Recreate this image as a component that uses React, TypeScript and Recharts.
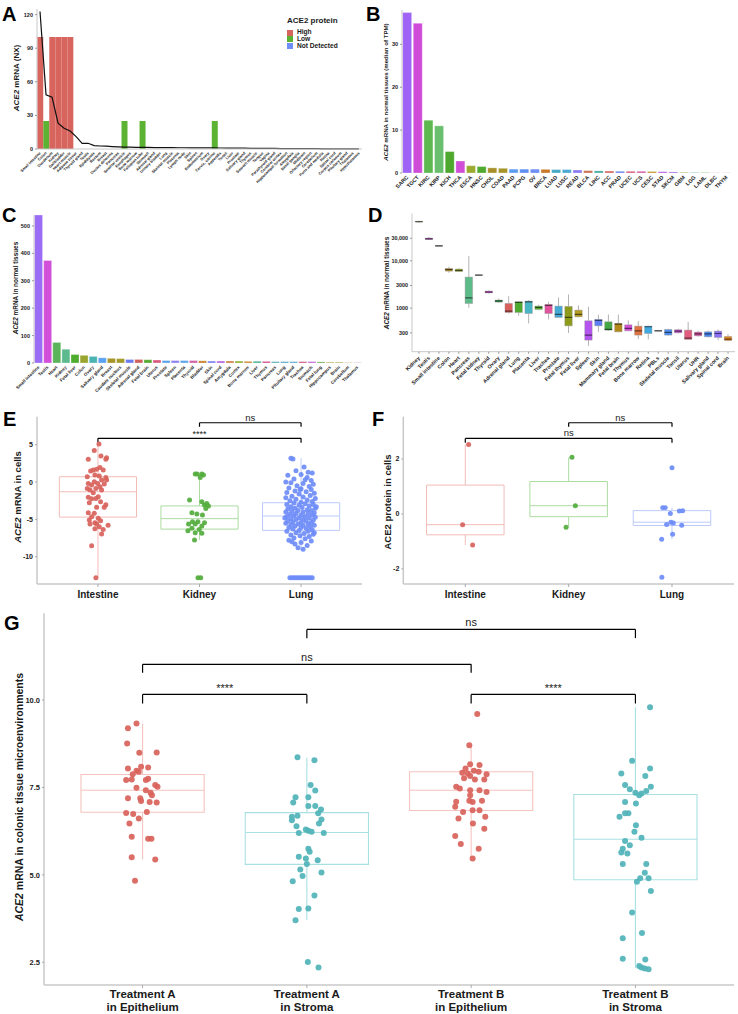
import React from "react";
import {
  Bar,
  BarChart,
  Cell,
  ComposedChart,
  Line,
  ReferenceArea,
  ReferenceLine,
  Scatter,
  XAxis,
  YAxis,
} from "recharts";

const SANS = '"Liberation Sans", Arial, Helvetica, sans-serif';
const NARROW = '"Liberation Sans Narrow", "Liberation Sans", Arial, sans-serif';
const INK = "#1a1a1a";
const AXIS = "#c8c8c8";

// ---------- A: HPA consensus NX + protein level ----------
const aTissues = [
  "Small intestine", "Colon", "Duodenum", "Kidney", "Gallbladder", "Heart muscle",
  "Adipose tissue", "Thyroid gland", "Testis", "Epididymis", "Rectum", "Breast",
  "Ductus deferens", "Pancreas", "Seminal vesicle", "Esophagus", "Bone marrow",
  "Fallopian tube", "Stomach", "Adrenal gland", "Urinary bladder", "Lung",
  "Skeletal muscle", "Placenta", "Lymph node", "Skin", "Spleen", "Endometrium",
  "Ovary", "Cervix, uterine", "Appendix", "Tonsil", "Liver", "Prostate",
  "Salivary gland", "Thymus", "Smooth muscle", "Tongue", "Vagina", "Parathyroid gland",
  "Cerebral cortex", "Hippocampal formation", "Amygdala", "Basal ganglia", "Midbrain",
  "Olfactory region", "Cerebellum", "Pons and medulla", "Retina", "Spinal cord",
  "Corpus callosum", "Pituitary gland", "Thalamus", "Hypothalamus",
];
const aProtein = [
  "High", "Low", "High", "High", "High", "High", "Not Detected", "Not Detected",
  "Not Detected", "Not Detected", "Not Detected", "Not Detected", "Not Detected",
  "Not Detected", "Low", "Not Detected", "Not Detected", "Low", "Not Detected",
  "Not Detected", "Not Detected", "Not Detected", "Not Detected", "Not Detected",
  "Not Detected", "Not Detected", "Not Detected", "Not Detected", "Not Detected", "Low",
  "Not Detected", "Not Detected", "Not Detected", "Not Detected", "Not Detected",
  "Not Detected", "Not Detected", "Not Detected", "Not Detected", "Not Detected",
  "Not Detected", "Not Detected", "Not Detected", "Not Detected", "Not Detected",
  "Not Detected", "Not Detected", "Not Detected", "Not Detected", "Not Detected",
  "Not Detected", "Not Detected", "Not Detected", "Not Detected",
];
const aNX = [
  122.7, 48.4, 46.3, 23, 18.5, 16.1, 11, 5.1, 5.1, 3.0, 2.7, 2.5, 2.2, 1.9, 1.7, 1.6,
  1.5, 1.4, 1.4, 1.3, 1.3, 1.2, 1.2, 1.1, 1.1, 1.0, 1.0, 1.0, 1.0, 1.0, 0.9, 0.8, 0.8,
  0.7, 0.7, 0.6, 0.6, 0.5, 0.5, 0.5, 0.4, 0.4, 0.4, 0.3, 0.3, 0.3, 0.3, 0.2, 0.2, 0.2,
  0.2, 0.1, 0.1, 0.1,
];
const proteinLevel: Record<string, number> = { High: 100, Low: 25, "Not Detected": 0 };
const proteinColor: Record<string, string> = {
  High: "#d8645e",
  Low: "#5cb233",
  "Not Detected": "#6f8ef7",
};

// ---------- B: TCGA median TPM ----------
const bTypes = [
  "SARC", "TGCT", "KIRC", "KIRP", "KICH", "THCA", "ESCA", "HNSC", "CHOL", "COAD", "PAAD",
  "PCPG", "OV", "BRCA", "LUAD", "LUSC", "READ", "BLCA", "LIHC", "ACC", "PRAD", "UCEC",
  "UCS", "CESC", "STAD", "SKCM", "GBM", "LGG", "LAML", "DLBC", "THYM",
];
const bTPM = [
  37.4, 34.9, 12.3, 11.0, 5.0, 2.8, 1.7, 1.5, 1.2, 1.1, 0.9, 0.9, 0.9, 0.85, 0.8, 0.8,
  0.7, 0.55, 0.5, 0.45, 0.4, 0.4, 0.4, 0.35, 0.3, 0.25, 0.15, 0.12, 0.1, 0.05, 0.05,
];
const bColors = [
  "#9f63f6", "#cf4cd8", "#5cb84f", "#6abf6e", "#4ea82e", "#d04fd6", "#9aab2f", "#4faa2d",
  "#a98f2a", "#a6952a", "#5b9cf2", "#5d8ef2", "#6c8ef6", "#c9792a", "#48aac6", "#4aa9d2",
  "#8a7cf4", "#cd6f4f", "#46aaa0", "#d3625b", "#6a82f2", "#d45a7d", "#cf5aa8", "#c19322",
  "#b155e6", "#a466ea", "#9aa232", "#4eb09a", "#5aa84a", "#d77aa0", "#d580c8",
];

// ---------- C: normal tissues ----------
const cTissues = [
  "Small intestine", "Testis", "Heart", "Kidney", "Fetal liver", "Colon", "Ovary",
  "Salivary gland", "Breast", "Caudate nucleus", "Skeletal muscle", "Adrenal gland",
  "Fetal brain", "Uterus", "Prostate", "Spleen", "Placenta", "Thyroid", "Bladder", "Skin",
  "Spinal cord", "Amygdala", "Cortex", "Bone marrow", "Liver", "Thymus", "Pancreas", "Lung",
  "Pituitary gland", "Trachea", "Stomach", "Fetal lung", "Hippocampus", "Brain",
  "Cerebellum", "Thalamus",
];
const cValues = [
  540, 374, 75, 50, 31, 28, 24, 19, 17, 16, 13, 13, 12, 11, 9, 9, 9, 9, 8, 7, 7, 7, 7, 6,
  6, 6, 5, 5, 5, 5, 5, 4, 3, 3, 2, 2,
];
const cColors = [
  "#9b6cf5", "#d24fd9", "#5bb35a", "#5cba8e", "#4eac2f", "#9aa52e", "#4cb3b3", "#5ba2f2",
  "#a8952a", "#a39a2b", "#6a7cf0", "#d0605c", "#57a933", "#d85c7e", "#5aa4ea", "#8f83f3",
  "#5fa7ea", "#cf62a8", "#c5812b", "#7a7ef2", "#b25ce8", "#c87b36", "#8fae2d", "#c9872a",
  "#46ad8e", "#d1528f", "#4cb0b4", "#4da6c8", "#57a8cf", "#d24f7f", "#c35cd4", "#5fae3e",
  "#a4a32f", "#a9a03a", "#c8a870", "#d3a6cf",
];

// ---------- D: normal tissues, log boxplots ----------
const dTissues = [
  "Kidney", "Testis", "Small intestine", "Colon", "Heart", "Pancreas", "Fetal kidney",
  "Thyroid", "Ovary", "Adrenal gland", "Lung", "Placenta", "Liver", "Trachea", "Prostate",
  "Fetal thymus", "Fetal liver", "Spleen", "Skin", "Mammary gland", "Fetal brain", "Thymus",
  "Bone marrow", "Retina", "PBLs", "Skeletal muscle", "Tonsil", "Uterus", "UHR",
  "Salivary gland", "Spinal cord", "Brain",
];
const dLo = [64000, 27500, 20000, 5580, 5800, 1016, 4850, 2050, 1300, 770, 690, 475, 900, 576, 620, 300, 640, 160, 316, 330, 310, 325, 221, 218, 325, 260, 290, 215, 250, 240, 211, 200];
const dQ1 = [66000, 28300, 20400, 6050, 5950, 1255, 4930, 2110, 1340, 810, 810, 771, 937, 771, 635, 423, 656, 211, 423, 343, 316, 332, 269, 291, 328, 269, 301, 218, 260, 248, 240, 207];
const dMed = [67000, 29000, 20700, 6560, 6240, 1653, 4980, 2180, 1430, 864, 1317, 1360, 1033, 1138, 735, 635, 735, 269, 549, 354, 459, 372, 332, 404, 332, 306, 327, 232, 287, 287, 291, 222];
const dQ3 = [68500, 30200, 21000, 6890, 6700, 4520, 5050, 2290, 1475, 1255, 1360, 1405, 1102, 1195, 1102, 1085, 907, 540, 576, 514, 475, 444, 416, 416, 338, 354, 349, 343, 311, 316, 327, 252];
const dHi = [70000, 32000, 21400, 7500, 6900, 12550, 5100, 2350, 1600, 1790, 1400, 1475, 1180, 1360, 1680, 1945, 1140, 1066, 723, 735, 735, 549, 531, 420, 342, 366, 366, 514, 330, 340, 354, 282];
const dColors = [
  "#7a8a4a", "#c23fd0", "#6a7a5a", "#a8821f", "#8a9a1f", "#5dbb8a", "#6a8a6a", "#d243d8",
  "#38a44f", "#d9605c", "#4caa2f", "#48b6c6", "#55ad2b", "#e2529e", "#45a9d6", "#8e9b1a",
  "#b39b22", "#b455f0", "#5b7ff2", "#43a843", "#b38a19", "#d24fd9", "#e0733f", "#3fa9e0",
  "#7a7a7a", "#4f8ff0", "#c64fd0", "#e25c7f", "#d04f9e", "#4a88f0", "#8c6ff2", "#e3851f",
];

// ---------- E / F: single-cell ----------
const cellGroups = ["Intestine", "Kidney", "Lung"];
const cellColors = ["#d8625b", "#53ad3d", "#6e8cf7"];
const cellBoxColors = ["#f2bcb8", "#acdca2", "#bccafb"];
// [jitter, value]
const eIntestine = [
  [0.01, 5.09], [-0.036, 4.24], [-0.095, 3.04], [0.03, 3.48], [0.085, 3.26], [0.078, 3.04],
  [-0.046, 1.61], [-0.072, 1.47], [-0.013, 1.7], [0.02, 1.96], [0.052, 1.61], [-0.03, 0.94],
  [0.013, 0.8], [-0.105, 0.71], [0.078, 0.62], [0.036, 0.27], [-0.036, 0.04], [-0.095, -0.18],
  [-0.003, -0.18], [0.062, -0.27], [0.085, 0.27], [-0.062, -0.4], [0.02, -0.62], [-0.02, -0.85],
  [-0.105, -0.85], [-0.078, -1.07], [0.036, -1.07], [-0.046, -1.43], [0.003, -1.96],
  [-0.095, -2.05], [-0.062, -2.23], [-0.02, -2.19], [0.026, -2.63], [-0.085, -2.77],
  [0.078, -3.03], [0.062, -3.39], [-0.013, -3.39], [-0.095, -4.1], [-0.036, -4.19],
  [-0.062, -4.64], [0.003, -4.86], [-0.085, -5.09], [0.026, -5.18], [-0.03, -5.45],
  [-0.078, -5.62], [-0.013, -5.62], [0.1, -5.8], [0.013, -5.98], [-0.03, -6.25],
  [0.052, -6.34], [0.036, -6.96], [-0.062, -8.52], [-0.02, -12.8],
];
const eKidney = [
  [-0.042, 1.07], [-0.023, 1.07], [0.023, 1.07], [0.039, 0.94], [0.007, 0.62], [-0.098, -2.41],
  [0.023, -2.63], [0.072, -2.86], [0.049, -3.08], [0.088, -3.21], [0.062, -3.53],
  [-0.075, -4.1], [-0.026, -4.28], [0.029, -4.42], [-0.069, -5.31], [-0.016, -5.31],
  [0.049, -5.45], [-0.108, -5.62], [-0.042, -5.62], [0.023, -5.89], [-0.075, -6.2],
  [-0.114, -6.51], [-0.003, -6.34], [-0.042, -6.78], [0.023, -6.87], [-0.049, -7.76],
  [-0.015, -12.8], [0.012, -12.8],
];
const eLung = [
  [-0.1, 3.2], [-0.08, 3.1], [0.03, 2.0], [-0.05, 1.5], [0.07, 1.3], [0.11, 1.2], [0.0, 1.0],
  [-0.13, 0.9], [0.06, 0.6], [-0.07, 0.4], [0.1, 0.2], [-0.15, 0.0], [-0.1, -0.1], [0.02, -0.2],
  [0.12, -0.3], [-0.04, -0.5], [0.08, -0.6], [-0.12, -0.8], [0.0, -0.9], [0.1, -1.0],
  [-0.06, -1.2], [0.05, -1.3], [-0.14, -1.4], [0.13, -1.5], [-0.02, -1.6], [0.09, -1.8],
  [-0.09, -1.9], [0.02, -2.0], [-0.15, -2.1], [0.14, -2.2], [-0.05, -2.3], [0.06, -2.4],
  [-0.11, -2.5], [0.11, -2.6], [0.0, -2.7], [-0.07, -2.8], [0.04, -2.9], [-0.14, -3.0],
  [0.12, -3.0], [-0.02, -3.1], [0.08, -3.2], [-0.1, -3.3], [0.01, -3.4], [0.14, -3.5],
  [-0.06, -3.5], [-0.13, -3.6], [0.06, -3.7], [-0.03, -3.8], [0.1, -3.8], [-0.09, -3.9],
  [0.02, -4.0], [-0.15, -4.0], [0.13, -4.1], [-0.05, -4.2], [0.07, -4.2], [-0.11, -4.3],
  [0.0, -4.4], [0.11, -4.4], [-0.07, -4.5], [0.04, -4.6], [-0.14, -4.6], [0.14, -4.7],
  [-0.02, -4.8], [0.08, -4.8], [-0.1, -4.9], [0.02, -5.0], [-0.05, -5.0], [0.12, -5.1],
  [-0.13, -5.2], [0.05, -5.2], [-0.08, -5.3], [0.0, -5.4], [0.1, -5.4], [-0.15, -5.5],
  [-0.03, -5.6], [0.07, -5.6], [-0.1, -5.7], [0.13, -5.8], [0.02, -5.8], [-0.06, -5.9],
  [0.09, -6.0], [-0.12, -6.1], [0.0, -6.1], [0.05, -6.2], [-0.08, -6.3], [0.11, -6.4],
  [-0.02, -6.5], [-0.14, -6.6], [0.07, -6.6], [-0.05, -6.8], [0.03, -6.9], [0.12, -7.0],
  [-0.1, -7.1], [-0.01, -7.2], [0.08, -7.3], [-0.07, -7.5], [0.04, -7.6], [-0.12, -7.8],
  [0.1, -7.9], [0.0, -8.1], [-0.06, -8.3], [0.06, -8.5], [-0.03, -8.8], [0.02, -9.0],
  [-0.09, -8.0], [0.13, -6.8], [-0.16, -4.8], [0.15, -3.3], [-0.01, -1.0], [0.04, 0.3],
  [-0.11, -12.8], [-0.09, -12.8], [-0.07, -12.8], [-0.05, -12.8], [-0.03, -12.8],
  [-0.01, -12.8], [0.01, -12.8], [0.03, -12.8], [0.05, -12.8], [0.07, -12.8], [0.09, -12.8],
  [0.11, -12.8],
];
const eBoxes = [
  { lo: -12.8, q1: -4.69, med: -1.3, q3: 0.71, hi: 5.09 },
  { lo: -7.76, q1: -6.3, med: -4.9, q3: -3.2, hi: 1.07 },
  { lo: -9.0, q1: -6.47, med: -4.55, q3: -2.77, hi: 3.2 },
];
const eBrackets = [
  { from: 2, to: 3, y: 7.94, tip: 7.4, label: "ns" },
  { from: 1, to: 3, y: 5.85, tip: 5.26, label: "****" },
];

const fIntestine = [[0.032, 2.53], [-0.026, -0.39], [0.071, -1.13]];
const fKidney = [[0.032, 2.06], [0.065, 0.3], [-0.025, -0.48]];
const fLung = [
  [-0.09, 0.23], [-0.065, 0.23], [-0.016, 0.02], [0.071, 0.11], [0.103, 0.12], [-0.052, -0.38],
  [-0.01, -0.3], [0.013, -0.33], [0.094, -0.41], [0.006, -0.74], [-0.1, -0.92], [0.0, 1.68],
  [-0.098, -2.3],
];
const fBoxes = [
  { lo: -1.13, q1: -0.76, med: -0.39, q3: 1.05, hi: 2.53 },
  { lo: -0.48, q1: -0.1, med: 0.3, q3: 1.18, hi: 2.06 },
  { lo: -0.92, q1: -0.42, med: -0.3, q3: 0.12, hi: 0.23 },
];
const fBrackets = [
  { from: 2, to: 3, y: 3.32, tip: 3.17, label: "ns" },
  { from: 1, to: 3, y: 2.75, tip: 2.59, label: "ns" },
];

// ---------- G: colonic microenvironments ----------
const gGroups = [
  ["Treatment A", "in Epithelium"],
  ["Treatment A", "in Stroma"],
  ["Treatment B", "in Epithelium"],
  ["Treatment B", "in Stroma"],
];
const gColors = ["#d9625b", "#4fb3b8", "#d9625b", "#4fb3b8"];
const gBoxColors = ["#f6c3bf", "#a9e0e2", "#f6c3bf", "#a9e0e2"];
const gAEpi = [
  [-0.037, 9.33], [-0.089, 9.19], [-0.094, 8.76], [-0.02, 8.49], [0.086, 8.5], [-0.089, 8.04],
  [-0.009, 8.09], [0.034, 8.07], [-0.037, 7.98], [-0.023, 7.95], [-0.06, 7.88], [-0.1, 7.71],
  [-0.066, 7.73], [0.02, 7.71], [0.034, 7.75], [-0.037, 7.49], [0.077, 7.57], [0.091, 7.52],
  [0.02, 7.42], [0.049, 7.35], [0.057, 7.28], [-0.089, 7.19], [-0.014, 7.19], [-0.009, 7.11],
  [0.043, 7.08], [0.086, 7.07], [-0.1, 6.77], [-0.057, 6.74], [-0.023, 6.61], [0.026, 6.8],
  [-0.08, 6.47], [-0.066, 6.09], [0.034, 6.03], [0.054, 6.03], [-0.066, 5.5], [0.077, 5.44],
  [-0.046, 4.83],
];
const gAStr = [
  [-0.057, 8.36], [0.046, 8.28], [0.023, 7.57], [0.051, 7.41], [-0.069, 7.22], [0.009, 7.22],
  [-0.083, 7.07], [0.009, 6.97], [0.051, 6.97], [0.086, 6.87], [0.069, 6.76], [-0.091, 6.66],
  [-0.057, 6.69], [-0.091, 6.56], [0.089, 6.58], [0.074, 6.47], [-0.063, 6.39], [-0.006, 6.3],
  [-0.049, 6.2], [0.103, 6.2], [0.009, 6.26], [0.029, 6.23], [0.009, 5.75], [0.017, 5.66],
  [-0.049, 5.52], [-0.006, 5.47], [0.066, 5.42], [0.0, 5.31], [-0.04, 5.15], [0.089, 5.07],
  [-0.026, 4.97], [-0.086, 4.82], [0.046, 4.41], [-0.049, 4.02], [0.009, 4.04], [-0.069, 3.7],
  [0.006, 2.51], [0.071, 2.35],
];
const gBEpi = [
  [0.037, 9.6], [-0.011, 8.71], [-0.006, 8.16], [0.051, 8.14], [-0.034, 8.04], [0.017, 7.98],
  [-0.054, 7.92], [-0.02, 7.9], [0.046, 7.95], [0.094, 7.88], [-0.006, 7.83], [-0.043, 7.76],
  [0.023, 7.73], [0.08, 7.73], [-0.091, 7.52], [-0.069, 7.47], [-0.006, 7.42], [0.051, 7.42],
  [0.094, 7.37], [-0.006, 7.28], [-0.091, 7.09], [-0.011, 7.12], [0.009, 7.08], [0.066, 7.12],
  [-0.097, 6.95], [0.009, 6.85], [-0.049, 6.8], [0.051, 6.85], [-0.077, 6.61], [0.086, 6.66],
  [0.011, 6.47], [0.08, 6.32], [-0.097, 6.11], [-0.063, 5.88], [0.046, 5.75], [0.009, 5.47],
];
const gBStr = [
  [0.089, 9.79], [-0.02, 8.26], [0.089, 8.04], [-0.086, 7.9], [0.06, 7.83], [-0.063, 7.57],
  [-0.034, 7.45], [0.094, 7.52], [0.0, 7.35], [0.037, 7.33], [0.066, 7.4], [0.023, 7.28],
  [-0.063, 7.08], [0.003, 7.04], [-0.063, 6.76], [-0.043, 6.76], [-0.097, 6.66], [0.003, 6.42],
  [-0.006, 6.23], [0.037, 6.06], [-0.063, 5.97], [-0.034, 5.85], [-0.077, 5.75], [-0.049, 5.61],
  [-0.086, 5.64], [-0.077, 5.31], [0.066, 5.31], [0.057, 5.06], [0.029, 4.9], [0.08, 4.9],
  [0.009, 4.8], [0.094, 4.54], [-0.02, 3.92], [0.04, 3.34], [-0.077, 3.19], [-0.077, 2.6],
  [0.06, 2.58], [0.037, 2.35], [0.057, 2.32], [0.08, 2.3], [0.023, 2.39],
];
const gBoxes = [
  { lo: 5.44, q1: 6.79, med: 7.42, q3: 7.87, hi: 9.33 },
  { lo: 3.71, q1: 5.3, med: 6.21, q3: 6.78, hi: 8.35 },
  { lo: 5.47, q1: 6.84, med: 7.42, q3: 7.95, hi: 8.71 },
  { lo: 2.33, q1: 4.86, med: 6.02, q3: 7.3, hi: 9.79 },
];
const gBrackets = [
  { from: 2, to: 4, y: 12.02, tip: 11.77, label: "ns" },
  { from: 1, to: 3, y: 11.02, tip: 10.78, label: "ns" },
  { from: 1, to: 2, y: 10.16, tip: 9.9, label: "****" },
  { from: 3, to: 4, y: 10.16, tip: 9.9, label: "****" },
];

// ---------- helpers ----------
type BoxStat = { lo: number; q1: number; med: number; q3: number; hi: number };

const toPoints = (pts: number[][], group: number) =>
  pts.map(([dx, y]) => ({ x: group + dx, y }));

function SlantTick({ x, y, text, fs }: any) {
  const yy = y + 1.5;
  return (
    <text
      x={x}
      y={yy}
      dy={fs * 0.35}
      transform={`rotate(-45 ${x} ${yy})`}
      textAnchor="end"
      fontSize={fs}
      fontWeight="bold"
      fontFamily={SANS}
      fill={INK}
    >
      {text}
    </text>
  );
}

const slant = (fs: number, names?: string[]) => (p: any) =>
  <SlantTick x={p.x} y={p.y} fs={fs} text={names ? names[p.payload.value] : p.payload.value} />;

function boxMarks(i: number, b: BoxStat, color: string, half: number, key: string, width = 1) {
  return [
    <ReferenceLine key={key + "w1"} segment={[{ x: i, y: b.q3 }, { x: i, y: b.hi }]} stroke={color} strokeWidth={width} />,
    <ReferenceLine key={key + "w2"} segment={[{ x: i, y: b.lo }, { x: i, y: b.q1 }]} stroke={color} strokeWidth={width} />,
    <ReferenceArea key={key + "b"} x1={i - half} x2={i + half} y1={b.q1} y2={b.q3} fill="none" fillOpacity={0} stroke={color} strokeWidth={width} />,
    <ReferenceLine key={key + "m"} segment={[{ x: i - half, y: b.med }, { x: i + half, y: b.med }]} stroke={color} strokeWidth={width} />,
  ];
}

function bracketMarks(br: { from: number; to: number; y: number; tip: number; label: string }, fs: number, offset: number, key: string) {
  return [
    <ReferenceLine
      key={key + "h"}
      segment={[{ x: br.from, y: br.y }, { x: br.to, y: br.y }]}
      stroke="#000"
      strokeWidth={1.2}
      label={{ value: br.label, position: "top", fontSize: fs, fill: "#222", fontFamily: NARROW, offset }}
    />,
    <ReferenceLine key={key + "l"} segment={[{ x: br.from, y: br.y }, { x: br.from, y: br.tip }]} stroke="#000" strokeWidth={1.2} />,
    <ReferenceLine key={key + "r"} segment={[{ x: br.to, y: br.y }, { x: br.to, y: br.tip }]} stroke="#000" strokeWidth={1.2} />,
  ];
}

const dot = (color: string, r: number) => (p: any) =>
  <circle cx={p.cx} cy={p.cy} r={r} fill={color} fillOpacity={0.92} />;

function Letter({ x, y, children }: any) {
  return (
    <div style={{ position: "absolute", left: x, top: y, fontFamily: SANS, fontWeight: "bold", fontSize: 20, lineHeight: 1, color: "#000" }}>
      {children}
    </div>
  );
}

function YTitle({ cx, cy, fs, family = SANS, children }: any) {
  return (
    <div
      style={{
        position: "absolute",
        left: cx,
        top: cy,
        transform: "translate(-50%, -50%) rotate(-90deg)",
        whiteSpace: "nowrap",
        fontFamily: family,
        fontWeight: "bold",
        fontSize: fs,
        lineHeight: 1,
        color: INK,
      }}
    >
      {children}
    </div>
  );
}

const Abs = ({ left, top, children }: any) => (
  <div style={{ position: "absolute", left, top }}>{children}</div>
);

const yTick = (fs: number, family = SANS) => ({ fontSize: fs, fontWeight: "bold", fill: INK, fontFamily: family });

// ---------- rows ----------
const aRows = aTissues.map((name, i) => ({
  name,
  protein: aProtein[i],
  level: proteinLevel[aProtein[i]],
  nx: aNX[i],
}));
const bRows = bTypes.map((name, i) => ({ name, tpm: bTPM[i] }));
const cRows = cTissues.map((name, i) => ({ name, value: cValues[i] }));
const dRows = dTissues.map((name, i) => ({
  i,
  name,
  lo: dLo[i],
  q1: dQ1[i],
  med: dMed[i],
  q3: dQ3[i],
  hi: dHi[i],
}));

const fmtD = (v: number) => (v >= 10000 ? v.toLocaleString("en-US") : String(v));

function CellTick({ x, y, payload, fs }: any) {
  return (
    <text x={x} y={y} dy={8.5} textAnchor="middle" fontFamily={NARROW} fontWeight="bold" fontSize={fs} fill={INK}>
      {cellGroups[payload.value - 1]}
    </text>
  );
}

function GTick({ x, y, payload }: any) {
  const [l1, l2] = gGroups[payload.value - 1];
  return (
    <text x={x} y={y} textAnchor="middle" fontFamily={NARROW} fontWeight="bold" fontSize={11.5} fill={INK}>
      <tspan x={x} dy={8.2}>{l1}</tspan>
      <tspan x={x} dy={12.8}>{l2}</tspan>
    </text>
  );
}

function MedianTick(p: any) {
  return <line x1={p.cx - 3.7} x2={p.cx + 3.7} y1={p.cy} y2={p.cy} stroke="rgba(0,0,0,0.55)" strokeWidth={1.2} />;
}

export default function App() {
  const eSets = [eIntestine, eKidney, eLung];
  const fSets = [fIntestine, fKidney, fLung];
  const gSets = [gAEpi, gAStr, gBEpi, gBStr];

  return (
    <div style={{ position: "absolute", left: 0, top: 0, width: 738, height: 1014, background: "#fff", overflow: "hidden" }}>
      {/* A */}
      <Abs left={0} top={0}>
        <ComposedChart width={370} height={190} data={aRows} margin={{ top: 9, right: 8, left: 0, bottom: 0 }} barCategoryGap="4%">
          <XAxis dataKey="name" interval={0} height={41} tickLine={false} tickSize={0} axisLine={{ stroke: AXIS }} tick={slant(3.8)} />
          <YAxis width={37} domain={[0, 125]} ticks={[0, 30, 60, 90, 120]} tickSize={2} tickLine={{ stroke: "#999" }} axisLine={{ stroke: AXIS }} tick={yTick(5.5)} />
          <Bar dataKey="level" isAnimationActive={false}>
            {aRows.map((r) => (
              <Cell key={r.name} fill={proteinColor[r.protein]} />
            ))}
          </Bar>
          <Line dataKey="nx" type="linear" stroke="#111" strokeWidth={1.2} dot={false} isAnimationActive={false} />
        </ComposedChart>
      </Abs>
      <div style={{ position: "absolute", left: 287, top: 17, fontFamily: SANS, fontWeight: "bold", fontSize: 8, color: INK, lineHeight: 1 }}>
        ACE2 protein
      </div>
      {["High", "Low", "Not Detected"].map((k, i) => (
        <div key={k} style={{ position: "absolute", left: 287, top: 29.3 + i * 6.7, display: "flex", alignItems: "center", fontFamily: SANS, fontWeight: "bold", fontSize: 6.6, color: INK, lineHeight: 1 }}>
          <span style={{ width: 6, height: 6, background: proteinColor[k], marginRight: 4, display: "inline-block" }} />
          {k}
        </div>
      ))}
      <YTitle cx={17} cy={78} fs={8}>
        <i>ACE2</i> mRNA (NX)
      </YTitle>
      <Letter x={2} y={4}>A</Letter>

      {/* B */}
      <Abs left={370} top={0}>
        <BarChart width={368} height={195} data={bRows} margin={{ top: 10, right: 6, left: 0, bottom: 0 }} barCategoryGap="6%">
          <XAxis dataKey="name" interval={0} height={22} tickLine={false} tickSize={0} axisLine={false} tick={slant(5.4)} />
          <YAxis width={32} domain={[0, 38]} ticks={[0, 10, 20, 30]} tickSize={2} tickLine={{ stroke: "#999" }} axisLine={{ stroke: AXIS }} tick={yTick(5.5)} />
          <Bar dataKey="tpm" isAnimationActive={false} stroke="rgba(255,255,255,0.5)" strokeWidth={0.6}>
            {bRows.map((r, i) => (
              <Cell key={r.name} fill={bColors[i]} />
            ))}
          </Bar>
        </BarChart>
      </Abs>
      <YTitle cx={385.5} cy={92} fs={6.1}>
        <i>ACE2</i> mRNA in normal tissues (median of TPM)
      </YTitle>
      <Letter x={366} y={4}>B</Letter>

      {/* C */}
      <Abs left={0} top={180}>
        <BarChart width={370} height={220} data={cRows} margin={{ top: 35, right: 8, left: 0, bottom: 0 }} barCategoryGap="6%">
          <XAxis dataKey="name" interval={0} height={37} tickLine={false} tickSize={0} axisLine={false} tick={slant(4.4)} />
          <YAxis width={34} domain={[0, 540]} ticks={[0, 100, 200, 300, 400, 500]} tickSize={2} tickLine={{ stroke: "#999" }} axisLine={{ stroke: AXIS }} tick={yTick(5.5)} />
          <Bar dataKey="value" isAnimationActive={false} stroke="rgba(255,255,255,0.5)" strokeWidth={0.6}>
            {cRows.map((r, i) => (
              <Cell key={r.name} fill={cColors[i]} />
            ))}
          </Bar>
        </BarChart>
      </Abs>
      <YTitle cx={15.5} cy={288} fs={6.4}>
        <i>ACE2</i> mRNA in normal tissues
      </YTitle>
      <Letter x={2} y={205}>C</Letter>

      {/* D */}
      <Abs left={370} top={180}>
        <ComposedChart width={368} height={212} margin={{ top: 33.5, right: 3, left: 0, bottom: 0 }}>
          <XAxis
            dataKey="i"
            type="number"
            domain={[-0.7, 31.7]}
            ticks={dRows.map((r) => r.i)}
            interval={0}
            height={40.3}
            tickSize={2}
            tickLine={{ stroke: "#999" }}
            axisLine={{ stroke: AXIS }}
            tick={slant(5.3, dTissues)}
          />
          <YAxis
            dataKey="med"
            type="number"
            scale="log"
            domain={[120, 100000]}
            allowDataOverflow
            ticks={[300, 1000, 3000, 10000, 30000]}
            tickFormatter={fmtD}
            width={42}
            tickSize={2}
            tickLine={{ stroke: "#999" }}
            axisLine={{ stroke: AXIS }}
            tick={yTick(5.4)}
          />
          {dRows.flatMap((r) => [
            <ReferenceLine key={r.name + "w1"} segment={[{ x: r.i, y: r.q3 }, { x: r.i, y: r.hi }]} stroke="#a0a0a0" strokeWidth={0.8} />,
            <ReferenceLine key={r.name + "w2"} segment={[{ x: r.i, y: r.lo }, { x: r.i, y: r.q1 }]} stroke="#a0a0a0" strokeWidth={0.8} />,
            <ReferenceArea key={r.name + "b"} x1={r.i - 0.37} x2={r.i + 0.37} y1={r.q1} y2={r.q3} fill={dColors[r.i]} fillOpacity={1} stroke="#8a8a8a" strokeWidth={0.4} />,
          ])}
          <Scatter data={dRows} dataKey="med" shape={MedianTick} isAnimationActive={false} />
        </ComposedChart>
      </Abs>
      <YTitle cx={386.5} cy={283} fs={6.4}>
        <i>ACE2</i> mRNA in normal tissues
      </YTitle>
      <Letter x={368} y={205}>D</Letter>

      {/* E */}
      <Abs left={0} top={400}>
        <ComposedChart width={370} height={215} margin={{ top: 16.7, right: 8, left: 0, bottom: 0 }}>
          <XAxis dataKey="x" type="number" domain={[0.4, 3.6]} ticks={[1, 2, 3]} height={31} tickSize={3} tickLine={{ stroke: "#aaa" }} axisLine={{ stroke: AXIS, strokeWidth: 1.5 }} tick={(p: any) => <CellTick {...p} fs={10} />} />
          <YAxis dataKey="y" type="number" domain={[-13.65, 8.75]} ticks={[-10, -5, 0, 5]} width={37} tickSize={2} tickLine={{ stroke: "#aaa" }} axisLine={{ stroke: AXIS, strokeWidth: 1.5 }} tick={yTick(7, NARROW)} />
          {eBoxes.flatMap((b, i) => boxMarks(i + 1, b, cellBoxColors[i], 0.38, "e" + i))}
          {eSets.map((pts, i) => (
            <Scatter key={"es" + i} data={toPoints(pts, i + 1)} shape={dot(cellColors[i], 2.5)} isAnimationActive={false} />
          ))}
          {eBrackets.flatMap((br, i) => bracketMarks(br, br.label === "ns" ? 9.5 : 9, br.label === "ns" ? 2 : 1, "eb" + i))}
        </ComposedChart>
      </Abs>
      <YTitle cx={18} cy={497} fs={9.5}>
        <i>ACE2</i> mRNA in cells
      </YTitle>
      <Letter x={3} y={409}>E</Letter>

      {/* F */}
      <Abs left={370} top={400}>
        <ComposedChart width={368} height={215} margin={{ top: 16.7, right: 4, left: 0, bottom: 0 }}>
          <XAxis dataKey="x" type="number" domain={[0.4, 3.6]} ticks={[1, 2, 3]} height={31} tickSize={3} tickLine={{ stroke: "#aaa" }} axisLine={{ stroke: AXIS, strokeWidth: 1.5 }} tick={(p: any) => <CellTick {...p} fs={10} />} />
          <YAxis dataKey="y" type="number" domain={[-2.55, 3.54]} ticks={[-2, 0, 2]} width={33.3} tickSize={2} tickLine={{ stroke: "#aaa" }} axisLine={{ stroke: AXIS, strokeWidth: 1.5 }} tick={yTick(7, NARROW)} />
          {fBoxes.flatMap((b, i) => boxMarks(i + 1, b, cellBoxColors[i], 0.375, "f" + i))}
          {fSets.map((pts, i) => (
            <Scatter key={"fs" + i} data={toPoints(pts, i + 1)} shape={dot(cellColors[i], 2.5)} isAnimationActive={false} />
          ))}
          {fBrackets.flatMap((br, i) => bracketMarks(br, 9.5, 2, "fb" + i))}
        </ComposedChart>
      </Abs>
      <YTitle cx={388} cy={502} fs={9.5}>
        ACE2 protein in cells
      </YTitle>
      <Letter x={372} y={409}>F</Letter>

      {/* G */}
      <Abs left={0} top={610}>
        <ComposedChart width={738} height={404} margin={{ top: 3.3, right: 4, left: 0, bottom: 0 }}>
          <XAxis dataKey="x" type="number" domain={[0.4, 4.6]} ticks={[1, 2, 3, 4]} height={29} tickSize={3} tickLine={{ stroke: "#aaa" }} axisLine={{ stroke: AXIS, strokeWidth: 1.5 }} tick={(p: any) => <GTick {...p} />} />
          <YAxis dataKey="y" type="number" domain={[1.85, 12.48]} ticks={[2.5, 5, 7.5, 10]} tickFormatter={(v: number) => v.toFixed(1)} width={44} tickSize={2} tickLine={{ stroke: "#aaa" }} axisLine={{ stroke: AXIS, strokeWidth: 1.5 }} tick={yTick(7.5, NARROW)} />
          {gBoxes.flatMap((b, i) => boxMarks(i + 1, b, gBoxColors[i], 0.375, "g" + i, 1.1))}
          {gSets.map((pts, i) => (
            <Scatter key={"gs" + i} data={toPoints(pts, i + 1)} shape={dot(gColors[i], 3)} isAnimationActive={false} />
          ))}
          {gBrackets.flatMap((br, i) => bracketMarks(br, 11, br.label === "ns" ? 3.8 : 2, "gb" + i))}
        </ComposedChart>
      </Abs>
      <YTitle cx={19} cy={797} fs={10.5}>
        <i>ACE2</i> mRNA in colonic tissue microenvironments
      </YTitle>
      <Letter x={4} y={613}>G</Letter>
    </div>
  );
}
